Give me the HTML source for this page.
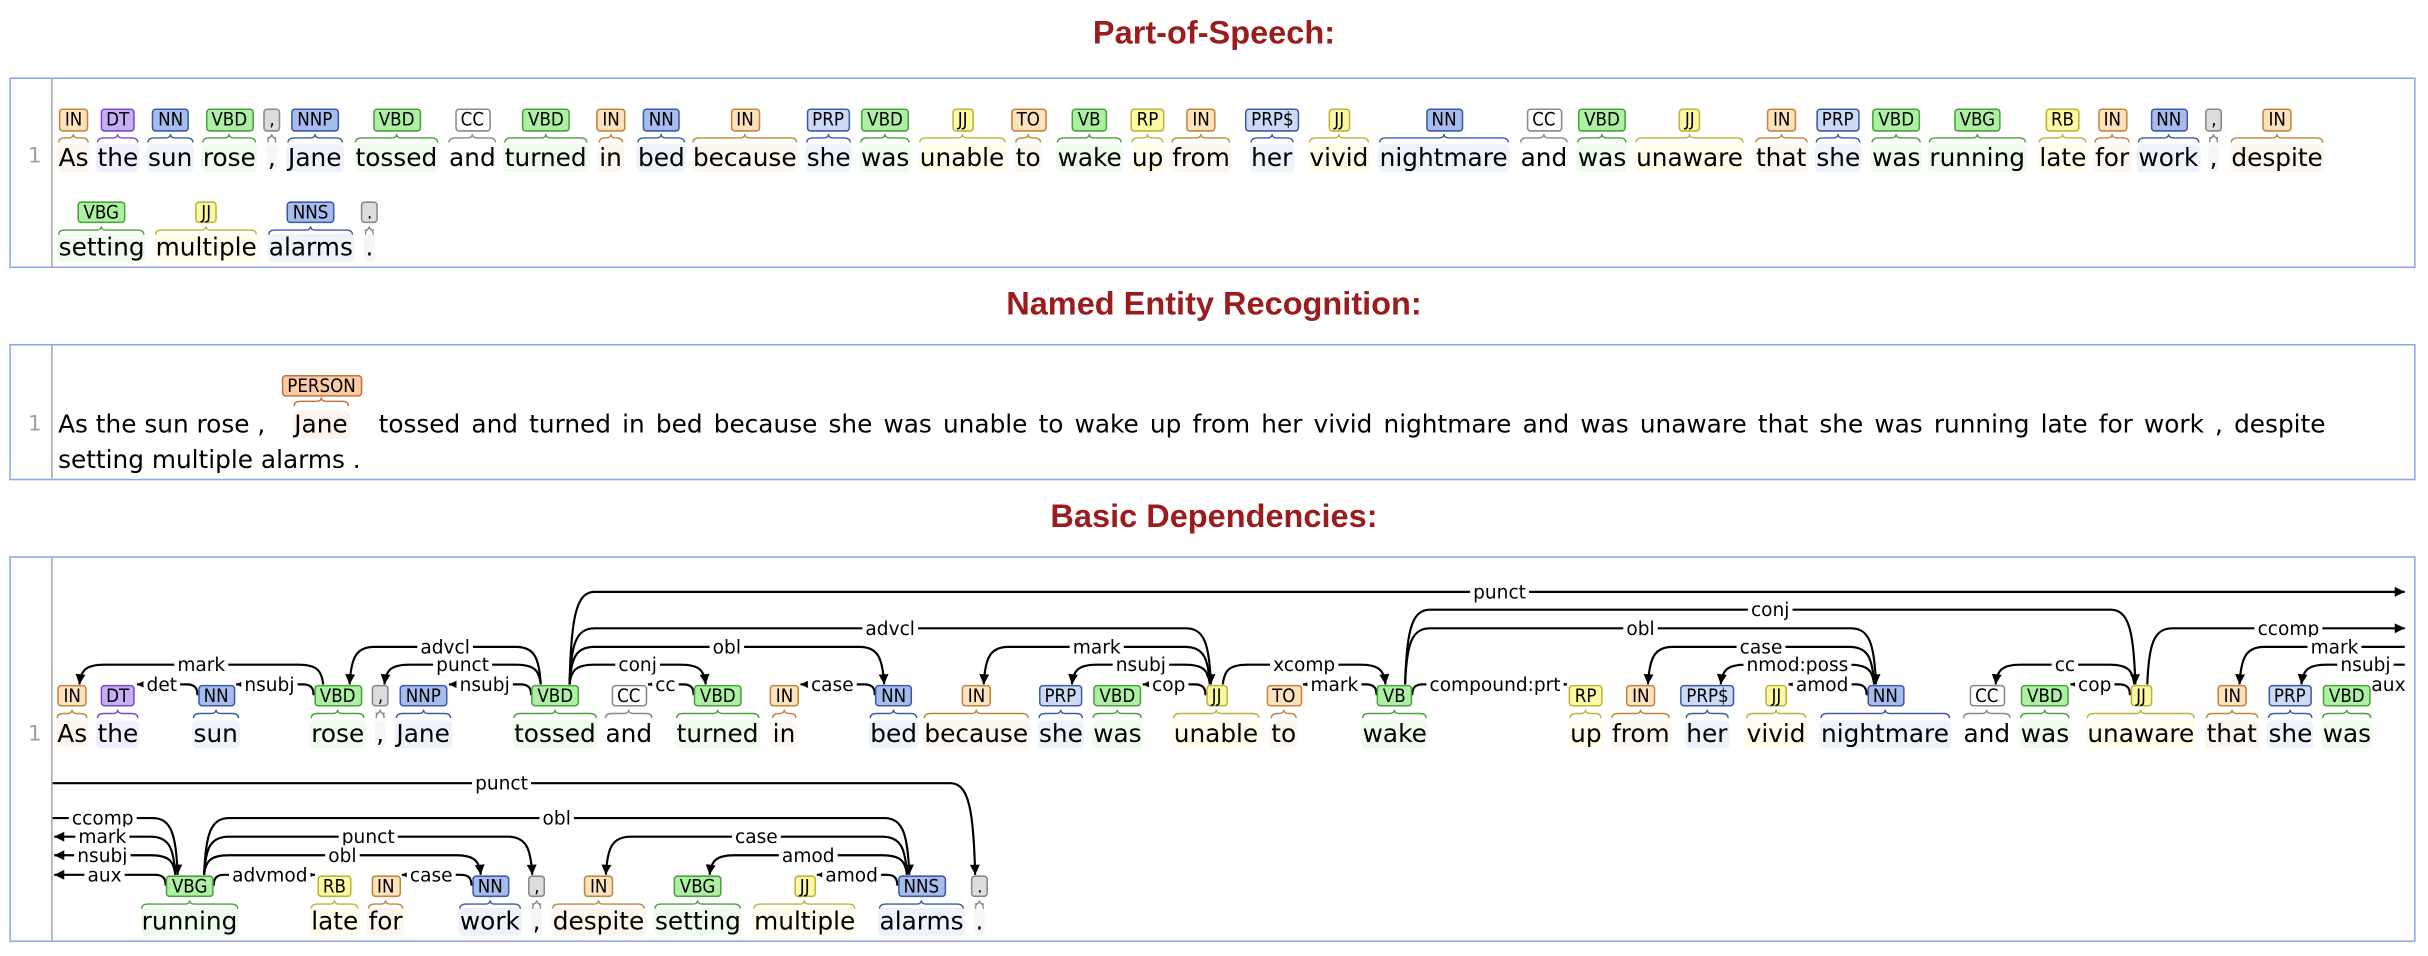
<!DOCTYPE html>
<html><head><meta charset="utf-8">
<style>
body{margin:0;width:2428px;height:956px;overflow:hidden;background:#fff}
#root{position:absolute;left:0;top:0;width:1568px;height:617px;transform-origin:0 0;transform:scale(1.54847,1.5494);font-family:"DejaVu Sans",sans-serif}
.title{position:absolute;left:0;width:1568px;text-align:center;font:bold 21px "Liberation Sans",sans-serif;line-height:24px;color:#9a1c1c}
.box{position:absolute;left:6px;width:1554px;border:1.5px solid #8da7ef;box-sizing:border-box}
.gut{position:absolute;left:33px;width:1px;background:#a8a8a8}
.num{position:absolute;left:18px;font-size:14px;line-height:16px;color:#a0a0a0}
.w{position:absolute;font-size:16px;line-height:18px;height:18px;white-space:pre;border-radius:3px;color:#000;padding:0 1px}
.t{position:absolute;font:12px "DejaVu Sans Condensed","DejaVu Sans",sans-serif;line-height:12.5px;padding:0 3px;border:1px solid;border-radius:2.5px;white-space:pre;color:#000}
.plain{position:absolute;font-size:16px;line-height:18px;white-space:pre;color:#000}
svg{position:absolute;left:0;top:0;overflow:visible}
</style></head><body>
<div id="root">
<div class="title" style="top:10px">Part-of-Speech:</div>
<div class="title" style="top:185px">Named Entity Recognition:</div>
<div class="title" style="top:322px">Basic Dependencies:</div>
<div class="box" style="top:50px;height:123px"></div>
<div class="gut" style="top:51px;height:121px"></div>
<div class="num" style="top:93px">1</div>
<div class="box" style="top:222px;height:88px"></div>
<div class="gut" style="top:223px;height:86px"></div>
<div class="num" style="top:266px">1</div>
<div class="box" style="top:359px;height:249px"></div>
<div class="gut" style="top:360px;height:247px"></div>
<div class="num" style="top:466px">1</div>
<div class="plain" style="left:37.5px;top:264.5px">As the sun rose ,</div>
<div class="plain" id="ner1" style="left:244.5px;top:264.5px">tossed and turned in bed because she was unable to wake up from her vivid nightmare and was unaware that she was running late for work , despite</div>
<div class="plain" style="left:37.5px;top:287.5px">setting multiple alarms .</div>
<svg id="sv" width="1568" height="617" viewBox="0 0 1568 617"></svg>
</div>
<script>
const root=document.getElementById('root');
const sv=document.getElementById('sv');
const NS='http://www.w3.org/2000/svg';
const O=['#fde2bd','#c0863a','#fdf6ee'],B=['#a6bcec','#3c5ba6','#eef2fb'],P=['#cddaf6','#3c5ba6','#eef2fb'],G=['#aef0a3','#4aa23c','#effbec'],Y=['#fcf9a4','#bdb436','#fffdea'],Q=['#dcdcdc','#888888','#f6f6f6'];
const C={IN:O,TO:O,DT:['#c8aef5','#7b4bc6','#f3eefd'],NN:B,NNP:B,NNS:B,PRP:P,'PRP$':P,VBD:G,VB:G,VBG:G,CC:['#ffffff','#888888','transparent'],',':Q,'.':Q,JJ:Y,RB:Y,RP:Y,PERSON:['#fccba6','#c0703a','#fdf3ee']};
function el(n,a){const e=document.createElementNS(NS,n);for(const k in a)e.setAttribute(k,a[k]);sv.appendChild(e);return e;}
function addTok(x,base,tagTop,braceY,word,tag,nobg){
 const c=C[tag];
 const w=document.createElement('div');w.className='w';w.textContent=word;
 w.style.left=(x-1)+'px';w.style.top=(base-14.5)+'px';w.style.background=nobg?'transparent':c[2];
 root.appendChild(w);
 const ww=w.offsetWidth;const cx=x-1+ww/2;
 const t=document.createElement('div');t.className='t';t.textContent=tag;
 t.style.background=c[0];t.style.borderColor=c[1];t.style.top=tagTop+'px';
 root.appendChild(t);const tw=t.offsetWidth;t.style.left=(cx-tw/2)+'px';
 const x0=x,x1=x-2+ww,y=braceY;const r=Math.min(4,(x1-x0)/4);
 el('path',{d:`M${x0},${y+3} Q${x0},${y} ${x0+r},${y} L${cx-3},${y} Q${cx},${y} ${cx},${y-2.5} Q${cx},${y} ${cx+3},${y} L${x1-r},${y} Q${x1},${y} ${x1},${y+3}`,fill:'none',stroke:c[1],'stroke-width':0.9});
 return {cx:cx,hw:tw/2};
}
// POS
const pos1=[["As","IN",37.9],["the","DT",63],["sun","NN",95.6],["rose","VBD",131],[",",",",173],["Jane","NNP",186],["tossed","VBD",229.6],["and","CC",290],["turned","VBD",326],["in","IN",387],["bed","NN",412],["because","IN",447.5],["she","PRP",521],["was","VBD",556],["unable","JJ",594],["to","TO",656],["wake","VB",683],["up","RP",731],["from","IN",757],["her","PRP$",808],["vivid","JJ",845.7],["nightmare","NN",891],["and","CC",982],["was","VBD",1019],["unaware","JJ",1056.6],["that","IN",1134],["she","PRP",1173],["was","VBD",1209],["running","VBG",1246],["late","RB",1317],["for","IN",1353],["work","NN",1381],[",",",",1427],["despite","IN",1441]];
pos1.forEach(a=>addTok(a[2],107,70,89,a[0],a[1]));
const pos2=[["setting","VBG",37.9],["multiple","JJ",100.5],["alarms","NNS",173.6],[".",".",236]];
pos2.forEach(a=>addTok(a[2],165.7,129.6,148.5,a[0],a[1]));
// NER
addTok(190,279,241.6,259,"Jane","PERSON");
const n1=document.getElementById('ner1');const nw=n1.offsetWidth;const sp=(n1.textContent.match(/ /g)||[]).length;
n1.style.wordSpacing=((1257-nw)/sp)+'px';
// Dependencies
const d1=[["As","IN",37],["the","DT",63],["sun","NN",125],["rose","VBD",201],[",",",",243],["Jane","NNP",256],["tossed","VBD",332],["and","CC",391],["turned","VBD",437],["in","IN",499],["bed","NN",562],["because","IN",597],["she","PRP",671],["was","VBD",706],["unable","JJ",758],["to","TO",821],["wake","VB",880],["up","RP",1014],["from","IN",1041],["her","PRP$",1089],["vivid","JJ",1128],["nightmare","NN",1176],["and","CC",1268],["was","VBD",1305],["unaware","JJ",1348],["that","IN",1425],["she","PRP",1465],["was","VBD",1500]];
const d2=[["running","VBG",91.5],["late","RB",201],["for","IN",238],["work","NN",297],[",",",",344],["despite","IN",357],["setting","VBG",423],["multiple","JJ",487],["alarms","NNS",568],[".",".",630]];
const toks=[];
d1.forEach(a=>toks.push(addTok(a[2],479,441.7,460.5,a[0],a[1])));
d2.forEach(a=>toks.push(addTok(a[2],600.6,564.6,583.5,a[0],a[1])));
const L1=[441.7,429,417.5,405.5,393.5,382],L2=[564.6,552,540,528,516,505.5];
const labels=[];
function arrow(x,y,ux,uy){const l=Math.hypot(ux,uy);ux/=l;uy/=l;const bx=x-ux*6.5,by=y-uy*6.5;
 el('path',{d:`M${x},${y} L${bx-uy*3.2},${by+ux*3.2} L${bx+uy*3.2},${by-ux*3.2} Z`,fill:'#000'});}
function line(d){el('path',{d:d,fill:'none',stroke:'#000','stroke-width':1.4});}
function arc(h,d,lv,label,row){
 const t=row==1?L1[0]:L2[0];const y=(row==1?L1:L2)[lv];const r=16;
 const ER=1553,EL=35;
 let p,ax,ay,ux,uy,m1,m2;
 if(typeof h==='number'&&typeof d==='number'){
  const H=toks[h],D=toks[d];const dir=Math.sign(D.cx-H.cx);
  if(lv==0){const sx=H.cx+dir*H.hw,ex=D.cx-dir*(D.hw+1);
   p=`M${sx},${t+7} C${sx},${t+2} ${sx+dir*2},${t} ${sx+dir*7},${t} L${ex},${t}`;ax=ex;ay=t;ux=dir;uy=0;m1=sx+dir*7;m2=ex;}
  else{const sx=H.cx+dir*H.hw*0.6,ex=D.cx-dir*D.hw*0.5;const cy=y+(t-y)*0.3;
   p=`M${sx},${t} C${sx+dir},${cy} ${sx+dir*4},${y} ${sx+dir*r},${y} L${ex-dir*r},${y} C${ex-dir*4},${y} ${ex-dir},${cy} ${ex},${t}`;
   ax=ex;ay=t;ux=dir;uy=t-cy;m1=sx+dir*r;m2=ex-dir*r;}
 }else if(typeof h==='number'){
  const H=toks[h];const E=d==='R'?ER:EL;const dir=Math.sign(E-H.cx);
  if(lv==0){const sx=H.cx+dir*H.hw;p=`M${sx},${t+7} C${sx},${t+2} ${sx+dir*2},${t} ${sx+dir*7},${t} L${E},${t}`;ax=E;ay=t;ux=dir;uy=0;m1=sx+dir*7;m2=E;}
  else{const sx=H.cx+dir*H.hw*0.6;const cy=y+(t-y)*0.3;
   p=`M${sx},${t} C${sx+dir},${cy} ${sx+dir*4},${y} ${sx+dir*r},${y} L${E},${y}`;ax=E;ay=y;ux=dir;uy=0;m1=sx+dir*r;m2=E;}
 }else{
  const D=toks[d];const E=h==='R'?ER:34;const dir=Math.sign(D.cx-E);
  if(lv==0){const ex=D.cx-dir*(D.hw+1);p=`M${E},${t} L${ex},${t}`;ax=ex;ay=t;ux=dir;uy=0;m1=E;m2=ex;}
  else{const ex=D.cx-dir*D.hw*0.5;const cy=y+(t-y)*0.3;
   p=`M${E},${y} L${ex-dir*r},${y} C${ex-dir*4},${y} ${ex-dir},${cy} ${ex},${t}`;ax=ex;ay=t;ux=dir;uy=t-cy;m1=E;m2=ex-dir*r;}
 }
 line(p);arrow(ax,ay,ux,uy);labels.push([(m1+m2)/2,y,label]);
}
const A1=[[3,0,1,'mark'],[2,1,0,'det'],[3,2,0,'nsubj'],[6,3,2,'advcl'],[6,4,1,'punct'],[6,5,0,'nsubj'],[6,'R',5,'punct'],[6,14,3,'advcl'],[6,10,2,'obl'],[6,8,1,'conj'],[8,7,0,'cc'],[10,9,0,'case'],[14,11,2,'mark'],[14,12,1,'nsubj'],[14,13,0,'cop'],[14,16,1,'xcomp'],[16,15,0,'mark'],[16,17,0,'compound:prt'],[16,24,4,'conj'],[16,21,3,'obl'],[21,18,2,'case'],[21,19,1,'nmod:poss'],[21,20,0,'amod'],[24,22,1,'cc'],[24,23,0,'cop'],[24,'R',3,'ccomp'],['R',25,2,'mark'],['R',26,1,'nsubj'],['R',27,0,'aux']];
A1.forEach(a=>arc(a[0],a[1],a[2],a[3],1));
const A2=[['L',37,5,'punct'],['L',28,3,'ccomp'],[28,'L',2,'mark'],[28,'L',1,'nsubj'],[28,'L',0,'aux'],[28,36,3,'obl'],[28,32,2,'punct'],[28,31,1,'obl'],[28,29,0,'advmod'],[31,30,0,'case'],[36,33,2,'case'],[36,34,1,'amod'],[36,35,0,'amod']];
A2.forEach(a=>arc(a[0],a[1],a[2],a[3],2));
labels.forEach(L=>{
 const rc=el('rect',{x:0,y:L[1]-6.5,width:0,height:12,fill:'#fff'});
 const tx=el('text',{x:L[0],y:L[1]+4.2,'text-anchor':'middle','font-size':12,'font-family':'DejaVu Sans, sans-serif',fill:'#000'});
 tx.textContent=L[2];const w=tx.getComputedTextLength()+4;
 rc.setAttribute('x',L[0]-w/2);rc.setAttribute('width',w);
});
</script>
</body></html>
